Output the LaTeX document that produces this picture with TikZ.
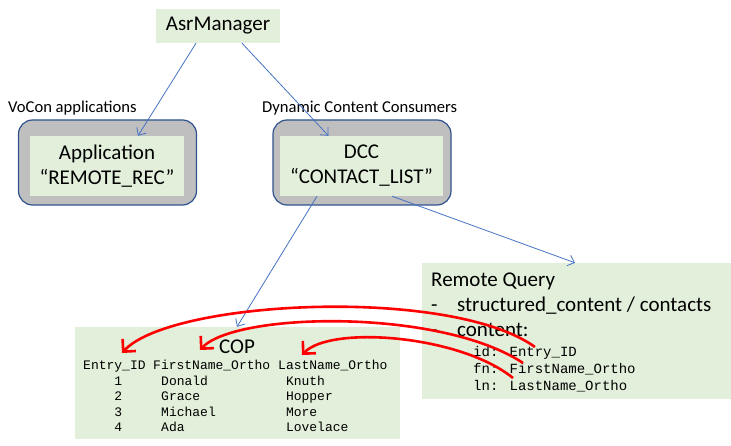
\documentclass[tikz,border=0pt]{standalone}
\usepackage{fontspec}
\setmainfont{Carlito}
\newfontfamily\monofont{Liberation Mono}
\usetikzlibrary{arrows.meta}
\definecolor{boxgreen}{HTML}{E2EFDA}
\definecolor{boxgray}{HTML}{BFBFBF}
\definecolor{boxedge}{HTML}{2F528F}
\definecolor{linkblue}{HTML}{4472C4}
\definecolor{mapred}{HTML}{FF0000}
\begin{document}
\begin{tikzpicture}[x=1pt,y=-1pt,
  greenbox/.style={fill=boxgreen, draw=none, inner sep=0pt, align=center},
  outerbox/.style={fill=boxgray, draw=boxedge, line width=1.2pt, rounded corners=14pt, inner sep=0pt},
  bigtext/.style={font=\fontsize{21}{25}\selectfont},
  plain/.style={inner sep=0pt, anchor=base west},
  smalllabel/.style={font=\fontsize{16.6}{19}\selectfont, inner sep=0pt, anchor=base west},
  monoA/.style={font=\monofont\fontsize{13}{15}\selectfont, inner sep=0pt, anchor=base west},
  monoB/.style={font=\monofont\fontsize{14}{17}\selectfont, inner sep=0pt, anchor=base west},
  link/.style={draw=linkblue, line width=0.8pt, -{Straight Barb[length=6pt,width=11pt]}},
  mapping/.style={draw=mapred, line width=2.6pt, -{Straight Barb[length=9pt,width=18pt]}}
]
\useasboundingbox (0,0) rectangle (731,446);

% top
\node[greenbox, bigtext, minimum width=124pt, minimum height=34pt] (asr) at (218,26) {AsrManager};

% labels
\node[smalllabel] (vocon) at (8,112.5) {VoCon applications};
\node[smalllabel] (dynlabel) at (262,112.5) {Dynamic Content Consumers};

% application
\node[outerbox, minimum width=178pt, minimum height=85pt] (appouter) at (107.5,162.5) {};
\node[greenbox, bigtext, minimum width=154pt, minimum height=60pt] (app) at (107,166) {Application\\“REMOTE\_REC”};

% dcc
\node[outerbox, minimum width=178pt, minimum height=85pt] (dccouter) at (362,162.5) {};
\node[greenbox, bigtext, minimum width=163pt, minimum height=60pt] (dcc) at (361.5,166) {DCC\\“CONTACT\_LIST”};

% COP
\node[greenbox, minimum width=325pt, minimum height=112pt] (cop) at (237,383) {};
\node[bigtext, inner sep=0pt, anchor=base] (coptitle) at (237,353) {COP};
\node[monoA] (hA) at (83,369.5) {Entry\_ID};
\node[monoA] (hB) at (153,369.5) {FirstName\_Ortho};
\node[monoA] (hC) at (278,369.5) {LastName\_Ortho};
\node[monoA] (n1) at (114.2,385) {1};
\node[monoA] (f1) at (161,385) {Donald};
\node[monoA] (l1) at (285.8,385) {Knuth};
\node[monoA] (n2) at (114.2,400.5) {2};
\node[monoA] (f2) at (161,400.5) {Grace};
\node[monoA] (l2) at (285.8,400.5) {Hopper};
\node[monoA] (n3) at (114.2,416) {3};
\node[monoA] (f3) at (161,416) {Michael};
\node[monoA] (l3) at (285.8,416) {More};
\node[monoA] (n4) at (114.2,431.5) {4};
\node[monoA] (f4) at (161,431.5) {Ada};
\node[monoA] (l4) at (285.8,431.5) {Lovelace};

% Remote query
\node[greenbox, minimum width=309pt, minimum height=136pt] (rq) at (576.5,331) {};
\node[plain, bigtext] (rqtitle) at (431,287) {Remote Query};
\node[plain, bigtext] (dash1) at (431,312) {-};
\node[plain, bigtext] (rq1) at (457,312) {structured\_content / contacts};
\node[plain, bigtext] (dash2) at (431,337) {-};
\node[plain, bigtext] (rq2) at (457,337) {content:};
\node[monoB] (m1) at (473,356) {id: Entry\_ID};
\node[monoB] (m2) at (473,373) {fn: FirstName\_Ortho};
\node[monoB] (m3) at (473,390) {ln: LastName\_Ortho};

% blue links
\draw[link] ([xshift=-22pt]asr.south) -- ([xshift=31pt]app.north);
\draw[link] ([xshift=24pt]asr.south) -- ([xshift=-33pt]dcc.north);
\draw[link] ([xshift=-44.5pt]dcc.south) -- (cop.north);
\draw[link] ([xshift=30.5pt]dcc.south) -- ([xshift=-1.5pt]rq.north);

% red mapping arrows
\coordinate (s1) at (535,347);
\coordinate (s2) at (523,363);
\coordinate (s3) at (513,378);
\coordinate (t1) at (122,353);
\coordinate (t2) at (200,350);
\coordinate (t3) at (302,355);
\draw[mapping] (s1) .. controls (450,286) and (170,300) .. (t1);
\draw[mapping] (s2) .. controls (440,308) and (235,312) .. (t2);
\draw[mapping] (s3) .. controls (460,335) and (330,325) .. (t3);
\end{tikzpicture}
\end{document}
